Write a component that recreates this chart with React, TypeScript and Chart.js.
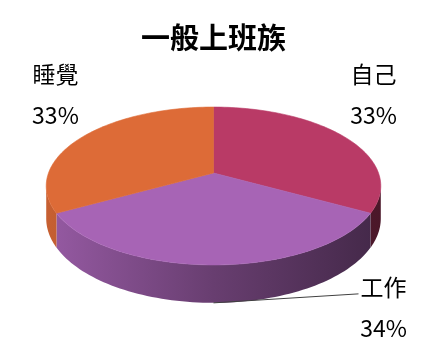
import React, { useEffect, useRef } from 'react';
import { Chart, registerables } from 'chart.js';

Chart.register(...registerables);

const chartTitle = '一般上班族';
const categories = ['自己', '工作', '睡覺'];
const values = [33, 34, 33];
const colors = ['#B93A66', '#A764B5', '#DD6B37'];

// 3D look parameters (projection of the flat pie)
const TILT = 0.4655;
const PERSP = 0.1646;
const DEPTH = 0.192;
const FONT = '"Noto Sans CJK TC", "Noto Sans CJK SC", sans-serif';

function proj(cx: number, cy: number, R: number, t: number) {
  const u = Math.cos(t);
  const v = Math.sin(t);
  const w = 1 / (1 - PERSP * v);
  return { x: cx + R * u * w, y: cy + R * TILT * v * w, d: R * DEPTH * w };
}

function shade(hex: string, f: number) {
  const n = parseInt(hex.slice(1), 16);
  const r = Math.round(((n >> 16) & 255) * f);
  const g = Math.round(((n >> 8) & 255) * f);
  const b = Math.round((n & 255) * f);
  return `rgb(${r},${g},${b})`;
}

const pie3d = {
  id: 'pie3d',
  beforeDatasetsDraw(chart: any) {
    const ctx = chart.ctx as CanvasRenderingContext2D;
    const meta = chart.getDatasetMeta(0);
    const arcs = meta.data as any[];
    if (!arcs.length) return false;
    const cx = arcs[0].x;
    const cy = arcs[0].y;
    const R = arcs[0].outerRadius;
    const xr = R / Math.sqrt(1 - PERSP * PERSP);
    const t0 = Math.asin(PERSP);
    const t1 = Math.PI - t0;
    const N = 80;
    ctx.save();
    // sides
    arcs.forEach((arc, i) => {
      const { startAngle, endAngle } = arc.getProps(['startAngle', 'endAngle'], true);
      const col = colors[i % colors.length];
      for (const shift of [-2 * Math.PI, 0, 2 * Math.PI]) {
        const a = Math.max(startAngle + shift, t0);
        const b = Math.min(endAngle + shift, t1);
        if (b <= a) continue;
        ctx.beginPath();
        for (let k = 0; k <= N; k++) {
          const p = proj(cx, cy, R, a + ((b - a) * k) / N);
          if (k === 0) ctx.moveTo(p.x, p.y);
          else ctx.lineTo(p.x, p.y);
        }
        for (let k = N; k >= 0; k--) {
          const p = proj(cx, cy, R, a + ((b - a) * k) / N);
          ctx.lineTo(p.x, p.y + p.d);
        }
        ctx.closePath();
        const g = ctx.createLinearGradient(cx - xr, 0, cx + xr, 0);
        g.addColorStop(0, shade(col, 0.9));
        g.addColorStop(0.5, shade(col, 0.62));
        g.addColorStop(1, shade(col, 0.4));
        ctx.fillStyle = g;
        ctx.fill();
      }
    });
    // top faces
    arcs.forEach((arc, i) => {
      const { startAngle, endAngle } = arc.getProps(['startAngle', 'endAngle'], true);
      const col = colors[i % colors.length];
      ctx.beginPath();
      ctx.moveTo(cx, cy);
      for (let k = 0; k <= N; k++) {
        const p = proj(cx, cy, R, startAngle + ((endAngle - startAngle) * k) / N);
        ctx.lineTo(p.x, p.y);
      }
      ctx.closePath();
      ctx.fillStyle = col;
      ctx.fill();
      ctx.strokeStyle = col;
      ctx.lineWidth = 0.6;
      ctx.stroke();
    });
    ctx.restore();
    return false;
  },
  afterDraw(chart: any) {
    const ctx = chart.ctx as CanvasRenderingContext2D;
    const meta = chart.getDatasetMeta(0);
    const arcs = meta.data as any[];
    const data = chart.data.datasets[0].data as number[];
    const total = data.reduce((s, v) => s + v, 0);
    ctx.save();
    ctx.font = `23px ${FONT}`;
    ctx.fillStyle = '#000';
    ctx.textAlign = 'center';
    ctx.textBaseline = 'middle';
    arcs.forEach((arc, i) => {
      const { startAngle, endAngle, x, y, outerRadius } = arc.getProps(
        ['startAngle', 'endAngle', 'x', 'y', 'outerRadius'],
        true
      );
      const mid = (startAngle + endAngle) / 2;
      const p = proj(x, y, outerRadius, mid);
      const pct = Math.round((data[i] / total) * 100) + '%';
      const name = chart.data.labels[i];
      let nx: number, ny: number;
      const sinM = Math.sin(mid);
      if (sinM > 0.9) {
        // front slice: label to the right with a leader line
        const bx = p.x;
        const by = p.y + p.d;
        ctx.beginPath();
        ctx.moveTo(bx, by);
        ctx.lineTo(bx + 145, by - 9);
        ctx.strokeStyle = '#404040';
        ctx.lineWidth = 1;
        ctx.stroke();
        nx = bx + 170;
        ny = by - 16;
      } else {
        const dx = Math.cos(mid) > 0 ? 29 : -27;
        nx = p.x + dx;
        ny = p.y - 63;
      }
      ctx.fillText(name, nx, ny);
      ctx.fillText(pct, nx, ny + 41);
    });
    ctx.restore();
  },
};

export default function App() {
  const ref = useRef<HTMLCanvasElement | null>(null);
  useEffect(() => {
    if (!ref.current) return;
    const chart = new Chart(ref.current, {
      type: 'pie',
      data: {
        labels: categories,
        datasets: [
          {
            data: values,
            backgroundColor: colors,
            borderWidth: 0,
            radius: 165,
          } as any,
        ],
      },
      options: {
        responsive: false,
        maintainAspectRatio: false,
        animation: false,
        devicePixelRatio: 1,
        layout: { padding: { top: 0, bottom: 62.8, left: 0, right: 0 } },
        plugins: {
          legend: { display: false },
          tooltip: { enabled: false },
          title: {
            display: true,
            text: chartTitle,
            color: '#000',
            font: { family: FONT, size: 29, weight: 'bold' },
            padding: { top: 21, bottom: 0 },
          },
        },
        events: [],
      },
      plugins: [pie3d],
    });
    return () => chart.destroy();
  }, []);
  return (
    <div style={{ position: 'fixed', left: 0, top: 0, width: 427, height: 353, background: '#fff' }}>
      <canvas ref={ref} width={427} height={353} style={{ display: 'block' }} />
    </div>
  );
}
